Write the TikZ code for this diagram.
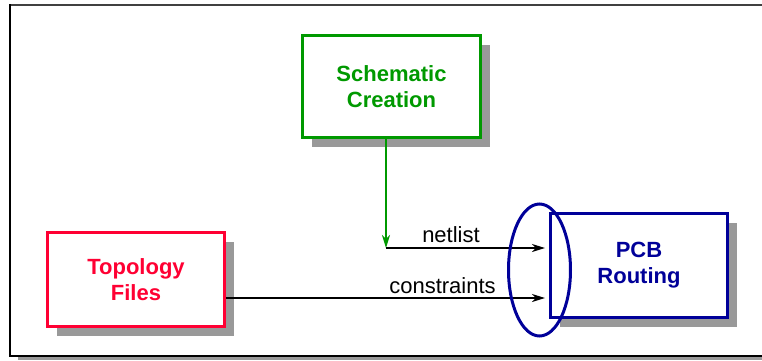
\documentclass[tikz,border=0pt]{standalone}
\usepackage{fontspec}
\setmainfont{Liberation Sans}
\usetikzlibrary{arrows.meta,shadows}

\definecolor{schemgreen}{RGB}{0,153,0}
\definecolor{topored}{RGB}{255,0,51}
\definecolor{pcbblue}{RGB}{0,0,153}

\begin{document}
\begin{tikzpicture}[x=0.5pt, y=-0.5pt,
		flowbox/.style={draw=#1, text=#1, line width=1.5pt, fill=white, align=center, inner sep=0pt,
			font=\fontsize{11}{13}\selectfont\bfseries,
			drop shadow={shadow xshift=4.75pt, shadow yshift=-4.75pt, fill=black!40, opacity=1}},
		flowarrow/.style={line width=1pt, -{Stealth[length=6.5pt, width=4pt, inset=2pt]}},
		flowlabel/.style={font=\fontsize{11}{13}\selectfont, inner sep=0pt, anchor=base}]
			%%%%% START %%%%%
			\useasboundingbox (0, 0) rectangle (762, 360);
			
			% frame
			\fill[black!40] (18, 356) rectangle (762, 360);
			\draw[line width=1pt, black!75] (9, 4.5) -- (762, 4.5);
			\draw[line width=1pt] (9.5, 4) -- (9.5, 356) -- (762, 356);
			
			% boxes
			\node[flowbox=schemgreen, minimum width=89pt, minimum height=51pt] (schem) at (391.5, 86.5) {Schematic\\Creation};
			\node[flowbox=topored, minimum width=88.5pt, minimum height=47pt] (topo) at (136, 279.5) {Topology\\Files};
			\node[flowbox=pcbblue, minimum width=88.5pt, minimum height=52pt] (pcb) at (639, 265.5) {PCB\\Routing};
			
			% connectors
			\coordinate (tap) at (386, 248);
			\coordinate (cin) at (226, 298);
			\draw[flowarrow, schemgreen] (tap |- schem.south) -- (tap);
			\draw[flowarrow, shorten >=2pt] (tap) -- (tap -| pcb.west);
			\draw[flowarrow, shorten >=2pt] (cin -| topo.east) -- (cin -| pcb.west);
			
			\node[flowlabel] (netlist) at (451, 242) {netlist};
			\node[flowlabel] (constr) at (442.5, 293) {constraints};
			
			% group
			\draw[line width=1.5pt, pcbblue] (539.5, 270) ellipse [x radius=15.5pt, y radius=33pt];
			%%%%% END %%%%%
\end{tikzpicture}
\end{document}
